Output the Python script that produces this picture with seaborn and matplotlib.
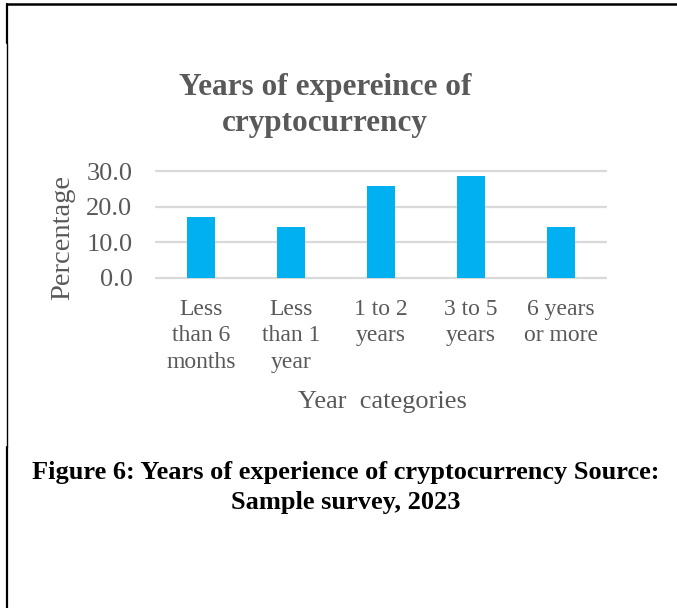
import matplotlib
matplotlib.use("Agg")
import matplotlib.pyplot as plt
from matplotlib.lines import Line2D
import seaborn as sns
import pandas as pd

# Survey results: share of respondents by years of cryptocurrency experience
categories = ["Less\nthan 6\nmonths", "Less\nthan 1\nyear", "1 to 2\nyears",
              "3 to 5\nyears", "6 years\nor more"]
percentages = [17.1, 14.3, 25.7, 28.6, 14.3]
y_ticks = [0, 10, 20, 30]
y_tick_labels = ["0.0", "10.0", "20.0", "30.0"]

sns.set_theme(style="white")
plt.rcParams["font.family"] = ["Liberation Serif", "DejaVu Serif"]

W, H = 677, 608
fig = plt.figure(figsize=(W / 100, H / 100), dpi=100)
fig.patch.set_facecolor("white")

# Plot area in pixel coordinates (left, top, right, bottom)
L, T, R, B = 156, 171, 606, 278
ax = fig.add_axes([L / W, 1 - B / H, (R - L) / W, (B - T) / H])

df = pd.DataFrame({"category": categories, "pct": percentages})
sns.barplot(data=df, x="category", y="pct", color="#00b0f0", width=0.31,
            saturation=1, linewidth=0, ax=ax)

ax.set_xlim(-0.5, len(categories) - 0.5)
ax.set_ylim(0, 30)
ax.set_yticks(y_ticks)
ax.set_yticklabels(y_tick_labels)
ax.yaxis.grid(True, color="#d9d9d9", linewidth=1.6)
for gl in ax.get_ygridlines():
    gl.set_clip_on(False)
ax.set_axisbelow(True)
for s in ax.spines.values():
    s.set_visible(False)

gray = "#595959"
ax.tick_params(axis="y", length=0, pad=17, labelsize=19, labelcolor=gray)
ax.tick_params(axis="x", length=0, pad=15, labelsize=17, labelcolor=gray)
for lbl in ax.get_xticklabels():
    lbl.set_linespacing(1.34)

ax.set_xlabel("")
ax.set_ylabel("")

# Axis titles
fig.text(382 / W, 1 - 402 / H, "Year  categories", ha="center", va="center",
         fontsize=19, color=gray)
fig.text(63 / W, 1 - 238 / H, "Percentage", ha="center", va="center",
         rotation=90, fontsize=20.5, color=gray)

# Chart title, one text per line
for txt, base in [("Years of expereince of", 95), ("cryptocurrency", 131)]:
    fig.text(325 / W, 1 - base / H, txt, ha="center", va="baseline",
             fontsize=22.5, fontweight="bold", color=gray)

# Figure caption
for txt, base in [("Figure 6: Years of experience of cryptocurrency Source:", 479),
                  ("Sample survey, 2023", 509)]:
    fig.text(346 / W, 1 - base / H, txt, ha="center", va="baseline",
             fontsize=19, fontweight="bold", color="black")

# Page frame lines
fig.add_artist(Line2D([7 / W, 1], [1 - 4 / H, 1 - 4 / H], color="black",
                      linewidth=1.8, transform=fig.transFigure))
for y0, y1, lw in [(4, 43, 1.6), (43, 447, 1.0), (447, 608, 1.6)]:
    fig.add_artist(Line2D([7 / W, 7 / W], [1 - y1 / H, 1 - y0 / H],
                          color="black", linewidth=lw,
                          transform=fig.transFigure))

fig.savefig("out.png", dpi=100, facecolor="white")
